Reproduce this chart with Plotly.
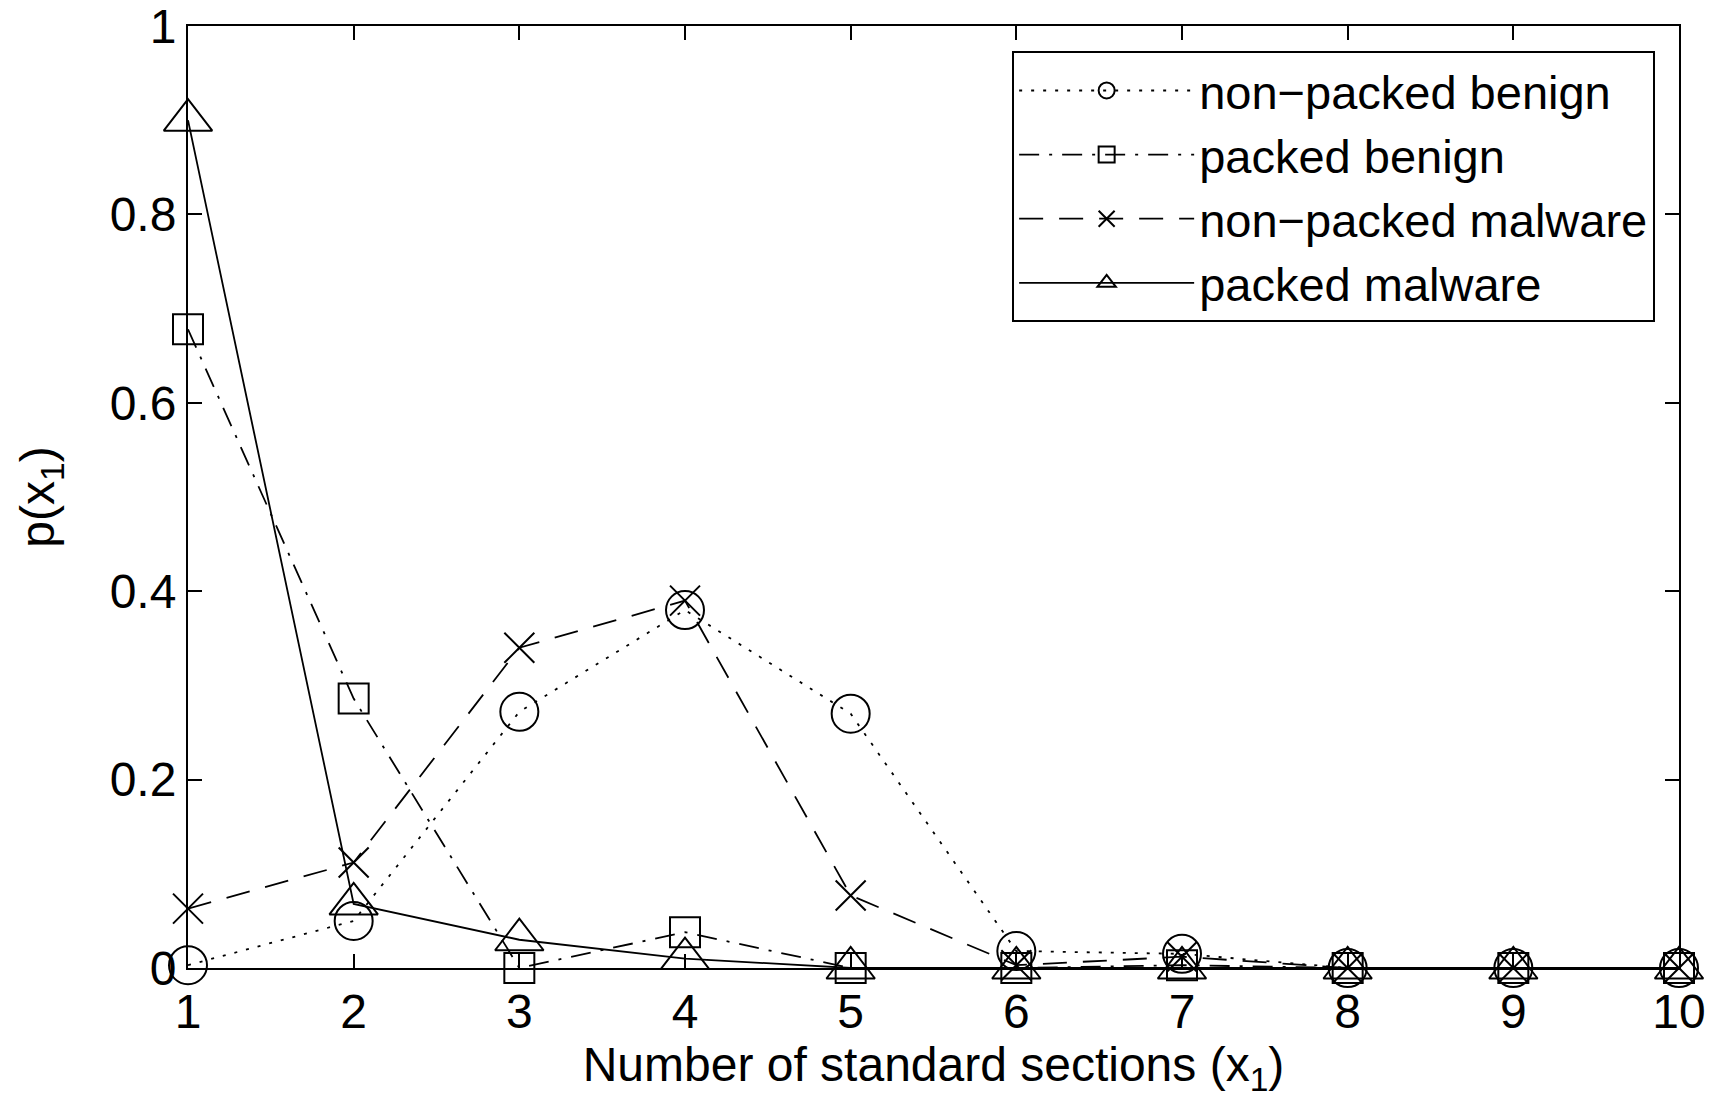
import plotly.graph_objects as go

x_vals = [1, 2, 3, 4, 5, 6, 7, 8, 9, 10]
nonpacked_benign = [0.003, 0.05, 0.272, 0.38, 0.27, 0.018, 0.015, 0.0, 0.0, 0.0]
packed_benign = [0.678, 0.286, 0.0, 0.038, 0.0, 0.0, 0.003, 0.0, 0.0, 0.0]
nonpacked_malware = [0.063, 0.112, 0.34, 0.39, 0.077, 0.003, 0.012, 0.0, 0.0, 0.0]
packed_malware = [0.9, 0.068, 0.03, 0.01, 0.0, 0.0, 0.0, 0.0, 0.0, 0.0]

series_names = ["non\u2212packed benign", "packed benign", "non\u2212packed malware", "packed malware"]
x_tick_labels = ["1", "2", "3", "4", "5", "6", "7", "8", "9", "10"]
y_tick_vals = [0, 0.2, 0.4, 0.6, 0.8, 1]
y_tick_labels = ["0", "0.2", "0.4", "0.6", "0.8", "1"]

FONT = "Liberation Sans, Arial, sans-serif"
FS = 48

styles = [
    (nonpacked_benign, "3px,9px", "circle-open", 38),
    (packed_benign, "20px,10px,3px,10px", "square-open", 30),
    (nonpacked_malware, "24px,16px", "x-thin-open", 30),
    (packed_malware, "solid", "triangle-up-open", 42),
]

fig = go.Figure()
for name, (ys, dash, sym, sz) in zip(series_names, styles):
    fig.add_trace(go.Scatter(
        x=x_vals, y=ys, name=name, mode="lines+markers",
        line=dict(color="black", width=1.8, dash=dash),
        marker=dict(symbol=sym, size=sz, color="black",
                    line=dict(color="black", width=2)),
        cliponaxis=False,
    ))

fig.update_layout(
    width=1715, height=1109,
    paper_bgcolor="white", plot_bgcolor="white",
    margin=dict(l=188, r=36, t=26, b=141),
    font=dict(family=FONT, size=FS, color="black"),
    showlegend=True,
    legend=dict(
        x=0.984, y=0.973, xanchor="right", yanchor="top",
        bgcolor="white", bordercolor="black", borderwidth=2,
        font=dict(size=47, family=FONT),
        itemwidth=175, tracegroupgap=0,
    ),
)
fig.update_xaxes(
    range=[1, 10], tickvals=x_vals, ticktext=x_tick_labels,
    ticks="inside", ticklen=14, tickwidth=2, tickcolor="black",
    showline=True, linecolor="black", linewidth=2, mirror="ticks",
    showgrid=False, zeroline=False, automargin=False,
    ticklabeloverflow="allow",
    tickfont=dict(size=FS, family=FONT),
    title=dict(text="Number of standard sections (x<sub>1</sub>)",
               font=dict(size=FS, family=FONT), standoff=8),
)
fig.update_yaxes(
    range=[0, 1], tickvals=y_tick_vals, ticktext=y_tick_labels,
    ticks="inside", ticklen=14, tickwidth=2, tickcolor="black",
    showline=True, linecolor="black", linewidth=2, mirror="ticks",
    showgrid=False, zeroline=False, automargin=False,
    ticklabeloverflow="allow",
    tickfont=dict(size=FS, family=FONT),
    title=dict(text="p(x<sub>1</sub>)", font=dict(size=FS, family=FONT), standoff=40),
)

fig.write_html("out.html", config={"displayModeBar": False},
               post_script="document.body.style.margin='0';")
